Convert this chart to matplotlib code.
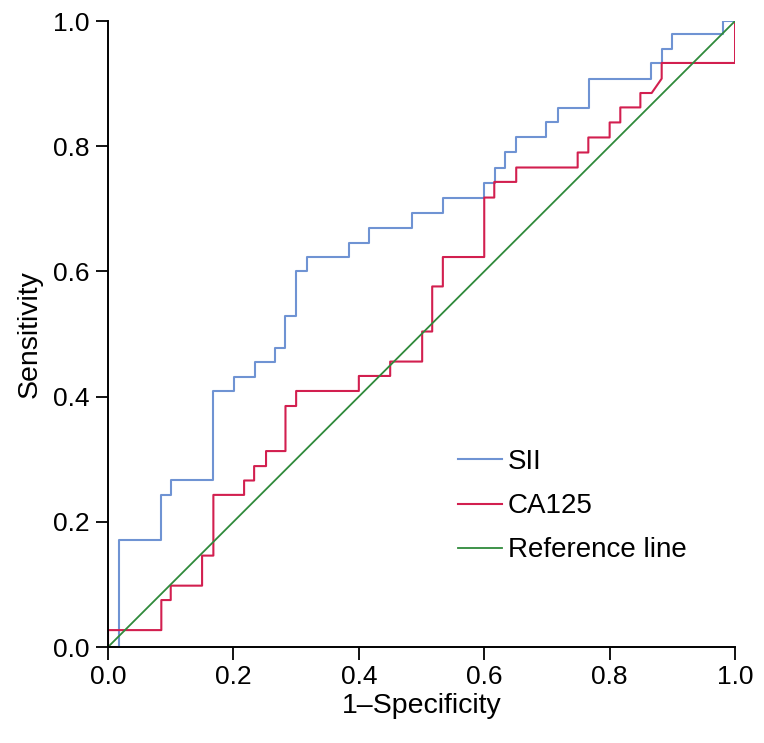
#!/usr/bin/env python3
"""ROC curves for SII and CA125 against the reference diagonal."""

import matplotlib

matplotlib.use("Agg")
import matplotlib.pyplot as plt

# ROC corner points (1-specificity, sensitivity)
SII_FPR = [0.0, 0.018, 0.018, 0.085, 0.085, 0.100, 0.100, 0.168, 0.168, 0.201,
           0.201, 0.234, 0.234, 0.266, 0.266, 0.283, 0.283, 0.300, 0.300, 0.317,
           0.317, 0.384, 0.384, 0.417, 0.417, 0.484, 0.484, 0.535, 0.535, 0.600,
           0.600, 0.617, 0.617, 0.633, 0.633, 0.651, 0.651, 0.699, 0.699, 0.717,
           0.717, 0.767, 0.767, 0.866, 0.866, 0.883, 0.883, 0.900, 0.900, 0.981,
           0.981, 1.0]
SII_TPR = [0.0, 0.0, 0.171, 0.171, 0.243, 0.243, 0.266, 0.266, 0.409, 0.409,
           0.432, 0.432, 0.455, 0.455, 0.478, 0.478, 0.528, 0.528, 0.600, 0.600,
           0.623, 0.623, 0.646, 0.646, 0.670, 0.670, 0.694, 0.694, 0.718, 0.718,
           0.742, 0.742, 0.766, 0.766, 0.790, 0.790, 0.814, 0.814, 0.838, 0.838,
           0.861, 0.861, 0.908, 0.908, 0.933, 0.933, 0.956, 0.956, 0.980, 0.980,
           1.0, 1.0]

CA125_FPR = [0.0, 0.0, 0.085, 0.085, 0.100, 0.100, 0.150, 0.150, 0.168, 0.168,
             0.217, 0.217, 0.233, 0.233, 0.252, 0.252, 0.283, 0.283, 0.300, 0.300,
             0.400, 0.400, 0.450, 0.450, 0.501, 0.501, 0.517, 0.517, 0.534, 0.534,
             0.600, 0.600, 0.616, 0.616, 0.651, 0.651, 0.749, 0.749, 0.766, 0.766,
             0.800, 0.800, 0.817, 0.817, 0.849, 0.849, 0.867, 0.883, 0.883, 1.0,
             1.0]
CA125_TPR = [0.0, 0.027, 0.027, 0.075, 0.075, 0.098, 0.098, 0.146, 0.146, 0.243,
             0.243, 0.266, 0.266, 0.289, 0.289, 0.313, 0.313, 0.385, 0.385, 0.409,
             0.409, 0.433, 0.433, 0.456, 0.456, 0.504, 0.504, 0.576, 0.576, 0.623,
             0.623, 0.718, 0.718, 0.743, 0.743, 0.766, 0.766, 0.790, 0.790, 0.814,
             0.814, 0.838, 0.838, 0.862, 0.862, 0.885, 0.885, 0.908, 0.933, 0.933,
             1.0]

REF_X = [0.0, 1.0]
REF_Y = [0.0, 1.0]

TICKS = [0.0, 0.2, 0.4, 0.6, 0.8, 1.0]

plt.rcParams["font.family"] = ["Liberation Sans", "DejaVu Sans"]

fig = plt.figure(figsize=(7.64, 7.43), dpi=100)
ax = fig.add_axes([0.1414, 0.1292, 0.8207, 0.8425])

ax.plot(SII_FPR, SII_TPR, color="#6f93d3", lw=1.5, label="SII")
ax.plot(CA125_FPR, CA125_TPR, color="#d21f4f", lw=1.5, label="CA125")
ax.plot(REF_X, REF_Y, color="#2f8a3b", lw=1.3, label="Reference line")

ax.set_xlim(0, 1)
ax.set_ylim(0, 1)
ax.set_xticks(TICKS)
ax.set_yticks(TICKS)
ax.set_xticklabels([f"{t:.1f}" for t in TICKS])
ax.set_yticklabels([f"{t:.1f}" for t in TICKS])
ax.tick_params(labelsize=19, length=9, width=1.3, pad=4)
for side in ("top", "right"):
    ax.spines[side].set_visible(False)
for side in ("left", "bottom"):
    ax.spines[side].set_linewidth(1.4)

ax.set_xlabel("1\u2013Specificity", fontsize=20.5, labelpad=3)
ax.set_ylabel("Sensitivity", fontsize=20.5, labelpad=8)

ax.legend(loc="upper left", bbox_to_anchor=(0.558, 0.316), frameon=False,
          fontsize=20, handlelength=1.6, handletextpad=0.2, labelspacing=0.65,
          borderpad=0, borderaxespad=0)

fig.savefig("out.png", dpi=100)
